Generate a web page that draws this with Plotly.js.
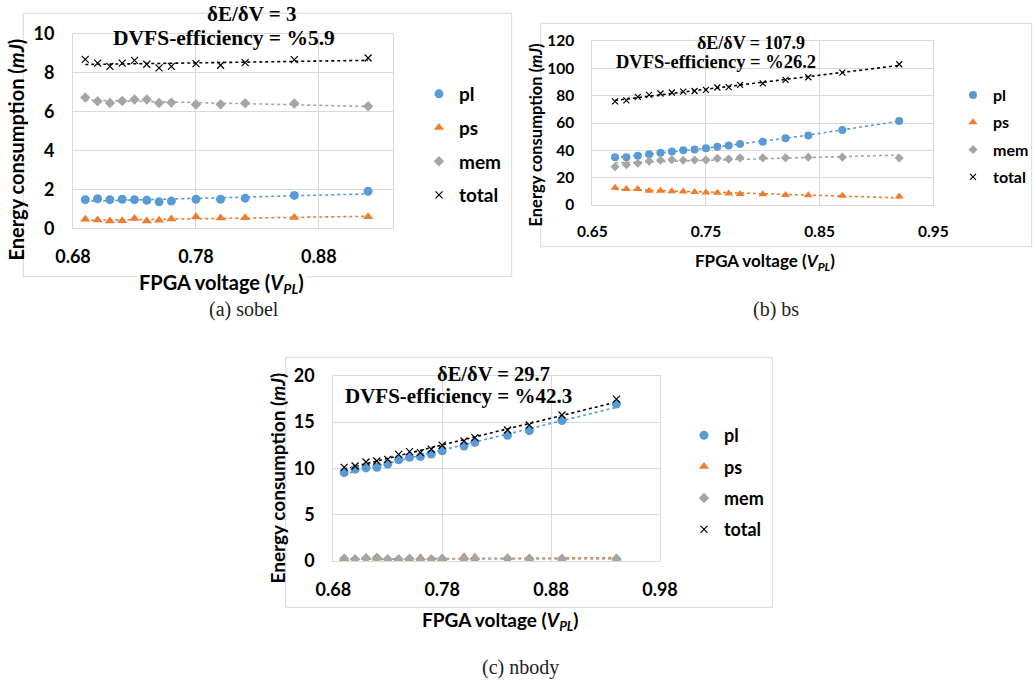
<!DOCTYPE html>
<html><head><meta charset="utf-8">
<script src="https://cdn.plot.ly/plotly-3.0.1.min.js"></script>
<style>html,body{margin:0;padding:0;background:#fff}#chart{width:1036px;height:687px}</style>
</head><body><div id="chart"></div>
<script>
// ---------- data ----------
const seriesNames = ['pl', 'ps', 'mem', 'total'];

// (a) sobel
const aVolt  = [0.69, 0.70, 0.71, 0.72, 0.73, 0.74, 0.75, 0.76, 0.78, 0.80, 0.82, 0.86, 0.92];
const aPl    = [1.47, 1.52, 1.47, 1.49, 1.47, 1.44, 1.36, 1.40, 1.49, 1.49, 1.55, 1.69, 1.90];
const aPs    = [0.46, 0.43, 0.37, 0.39, 0.51, 0.37, 0.41, 0.48, 0.59, 0.53, 0.54, 0.56, 0.59];
const aMem   = [6.72, 6.53, 6.44, 6.54, 6.62, 6.62, 6.44, 6.46, 6.36, 6.37, 6.43, 6.41, 6.27];
const aTotal = [8.68, 8.49, 8.32, 8.49, 8.63, 8.43, 8.24, 8.32, 8.46, 8.38, 8.51, 8.67, 8.75];

// (b) bs
const bVolt  = [0.67, 0.68, 0.69, 0.70, 0.71, 0.72, 0.73, 0.74, 0.75, 0.76, 0.77, 0.78, 0.80, 0.82, 0.84, 0.87, 0.92];
const bPl    = [34.9, 34.9, 36.1, 37.2, 38.2, 39.2, 40.1, 40.6, 41.5, 42.6, 43.6, 44.6, 46.2, 48.9, 50.8, 54.9, 61.5];
const bPs    = [12.6, 11.7, 11.7, 10.5, 10.5, 10.0, 9.8, 9.5, 9.2, 9.0, 8.4, 8.1, 7.9, 7.4, 7.2, 6.7, 6.3];
const bMem   = [28.0, 29.4, 30.5, 32.1, 32.7, 33.2, 32.7, 32.9, 33.0, 34.1, 33.6, 34.5, 34.5, 34.5, 35.0, 35.0, 34.4];
const bTotal = [75.8, 76.6, 79.1, 80.6, 81.6, 82.3, 82.9, 83.4, 84.2, 86.0, 86.3, 87.9, 89.0, 91.5, 93.5, 96.9, 103.0];

// (c) nbody
const cVolt  = [0.69, 0.70, 0.71, 0.72, 0.73, 0.74, 0.75, 0.76, 0.77, 0.78, 0.80, 0.81, 0.84, 0.86, 0.89, 0.94];
const cPl    = [9.55, 9.90, 10.05, 10.12, 10.47, 10.93, 11.2, 11.27, 11.55, 11.9, 12.4, 12.8, 13.57, 14.07, 15.17, 16.95];
const cPs    = [0.25, 0.05, 0.35, 0.30, 0.10, 0.20, 0.15, 0.35, 0.05, 0.25, 0.45, 0.40, 0.35, 0.30, 0.30, 0.30];
const cMem   = [0.25, 0.20, 0.30, 0.35, 0.20, 0.20, 0.25, 0.15, 0.20, 0.25, 0.20, 0.20, 0.25, 0.25, 0.25, 0.25];
const cTotal = [10.11, 10.25, 10.69, 10.79, 10.97, 11.51, 11.8, 11.69, 12.06, 12.49, 12.95, 13.31, 14.14, 14.68, 15.76, 17.48];

const aStats = ['δE/δV = 3', 'DVFS-efficiency = %5.9'];
const bStats = ['δE/δV = 107.9', 'DVFS-efficiency = %26.2'];
const cStats = ['δE/δV = 29.7', 'DVFS-efficiency = %42.3'];
const captions = ['(a) sobel', '(b) bs', '(c) nbody'];

// ---------- helpers ----------
const W = 1036, H = 687;
const PX = p => p / W;
const PY = p => 1 - p / H;
const colors = {pl: '#5B9BD5', ps: '#ED7D31', mem: '#A5A5A5', total: '#000000'};

function linfit(xs, ys) {
  const n = xs.length;
  const mx = xs.reduce((s, v) => s + v, 0) / n, my = ys.reduce((s, v) => s + v, 0) / n;
  let sxy = 0, sxx = 0;
  for (let i = 0; i < n; i++) { sxy += (xs[i] - mx) * (ys[i] - my); sxx += (xs[i] - mx) ** 2; }
  const b = sxy / sxx, a = my - b * mx;
  return {x: [xs[0], xs[n - 1]], y: [a + b * xs[0], a + b * xs[n - 1]]};
}
function quadfit(xs, ys) {
  const S = [0, 0, 0, 0, 0], T = [0, 0, 0];
  for (let i = 0; i < xs.length; i++) {
    let p = 1;
    for (let k = 0; k < 5; k++) { S[k] += p; if (k < 3) T[k] += p * ys[i]; p *= xs[i]; }
  }
  const M = [[S[0], S[1], S[2], T[0]], [S[1], S[2], S[3], T[1]], [S[2], S[3], S[4], T[2]]];
  for (let c = 0; c < 3; c++) {
    for (let r = c + 1; r < 3; r++) {
      const f = M[r][c] / M[c][c];
      for (let k = c; k < 4; k++) M[r][k] -= f * M[c][k];
    }
  }
  const co = [0, 0, 0];
  for (let r = 2; r >= 0; r--) {
    let s = M[r][3];
    for (let k = r + 1; k < 3; k++) s -= M[r][k] * co[k];
    co[r] = s / M[r][r];
  }
  return {x: xs.slice(), y: xs.map(x => co[0] + co[1] * x + co[2] * x * x)};
}

const traces = [];
function addPanel(idx, volt, data, msize, quadPl) {
  const xa = idx === 1 ? 'x' : 'x' + idx, ya = idx === 1 ? 'y' : 'y' + idx;
  const lg = idx === 1 ? 'legend' : 'legend' + idx;
  seriesNames.forEach((name, k) => {
    const ys = data[k];
    const fit = (quadPl && name === 'pl') ? quadfit(volt, ys) : linfit(volt, ys);
    traces.push({x: fit.x, y: fit.y, xaxis: xa, yaxis: ya, mode: 'lines', showlegend: false,
      hoverinfo: 'skip', line: {color: colors[name], dash: 'dot', width: 1.6}});
  });
  seriesNames.forEach((name, k) => {
    let marker;
    if (name === 'pl') marker = {symbol: 'circle', size: msize + 1, color: colors.pl};
    else if (name === 'ps') marker = {symbol: 'triangle-up', size: msize + 1, color: colors.ps};
    else if (name === 'mem') marker = {symbol: 'diamond', size: msize, color: colors.mem};
    else marker = {symbol: 'x-thin', size: msize - 1, color: '#000', line: {color: '#000', width: 1.2}};
    traces.push({x: volt, y: data[k], xaxis: xa, yaxis: ya, mode: 'markers', name: name,
      legend: lg, legendgroup: lg + name, marker: marker});
  });
}
addPanel(1, aVolt, [aPl, aPs, aMem, aTotal], 8, false);
addPanel(2, bVolt, [bPl, bPs, bMem, bTotal], 7, true);
addPanel(3, cVolt, [cPl, cPs, cMem, cTotal], 8, false);

const GRID = '#D9D9D9';
function axX(dom, range, tick0, anchor, fs) {
  return {domain: dom, range: range, tick0: tick0, dtick: 0.1, tickformat: '.2f', anchor: anchor,
    showgrid: true, gridcolor: GRID, gridwidth: 1, showline: true, linecolor: GRID, linewidth: 1, mirror: true,
    zeroline: false, ticks: '', ticklabelstandoff: 12,
    tickfont: {family: 'Lato', size: fs, color: '#000', weight: 700}};
}
function axY(dom, range, dtick, anchor, fs) {
  return {domain: dom, range: range, dtick: dtick, anchor: anchor,
    showgrid: true, gridcolor: GRID, gridwidth: 1, showline: true, linecolor: GRID, linewidth: 1, mirror: true,
    zeroline: false, ticks: '', ticklabelstandoff: 14,
    tickfont: {family: 'Lato', size: fs, color: '#000', weight: 700}};
}
function legendAt(xp, yp, fs, gap) {
  return {x: PX(xp), y: PY(yp), xanchor: 'left', yanchor: 'top', bgcolor: 'rgba(0,0,0,0)',
    traceorder: 'grouped', tracegroupgap: gap, borderwidth: 0,
    font: {family: 'Lato', size: fs, color: '#000', weight: 700}};
}

const ann = [];
function txt(text, xp, yp, font, extra) {
  ann.push(Object.assign({text: text, x: PX(xp), y: PY(yp), xref: 'paper', yref: 'paper',
    showarrow: false, xanchor: 'center', yanchor: 'middle', font: font}, extra || {}));
}
const serif = (s) => ({family: 'Liberation Serif', size: s, color: '#000', weight: 700});
const sans = (s) => ({family: 'Lato', size: s, color: '#000', weight: 700});
const ytitle = 'Energy consumption (<i>mJ</i>)';
const xtitle = 'FPGA voltage (<i>V<sub>PL</sub></i>)';

// (a)
txt(aStats[0], 251, 14, serif(21));
txt(aStats[1], 224, 38, serif(21.5));
txt(ytitle, 15.5, 150, sans(20), {textangle: -90});
txt(xtitle, 221, 284, sans(20), {bgcolor: '#fff'});
// (b)
txt(bStats[0], 751, 42.5, serif(18));
txt(bStats[1], 716, 62, serif(18.5));
txt(ytitle, 535.5, 135, sans(16.5), {textangle: -90});
txt(xtitle, 765, 262, sans(17));
// (c)
txt(cStats[0], 493, 374, serif(20.5));
txt(cStats[1], 458, 396, serif(21));
txt(ytitle, 276.5, 478, sans(19), {textangle: -90});
txt(xtitle, 500, 621, sans(19));
// captions
const capFont = {family: 'Liberation Serif', size: 20, color: '#222'};
txt(captions[0], 244, 309, capFont);
txt(captions[1], 776, 309, capFont);
txt(captions[2], 520, 667, capFont);

const box = (x0, y0, x1, y1) => ({type: 'rect', xref: 'paper', yref: 'paper', layer: 'below',
  x0: PX(x0), x1: PX(x1), y0: PY(y0), y1: PY(y1), line: {color: GRID, width: 1}, fillcolor: 'rgba(0,0,0,0)'});

const layout = {
  width: W, height: H, margin: {l: 0, r: 0, t: 0, b: 0},
  paper_bgcolor: '#fff', plot_bgcolor: '#fff',
  xaxis: axX([PX(73), PX(392.7)], [0.68, 0.94], 0.68, 'y', 18),
  yaxis: axY([PY(228.3), PY(33.7)], [0, 10], 2, 'x', 18),
  xaxis2: axX([PX(592.3), PX(933.3)], [0.65, 0.95], 0.65, 'y2', 15.5),
  yaxis2: axY([PY(205), PY(41)], [0, 120], 20, 'x2', 15.5),
  xaxis3: axX([PX(333.3), PX(660)], [0.68, 0.98], 0.68, 'y3', 18),
  yaxis3: axY([PY(561), PY(375.7)], [0, 20], 5, 'x3', 18),
  legend: legendAt(419, 75, 19, 6),
  legend2: legendAt(953, 78, 16, 3.5),
  legend3: legendAt(684, 417, 18, 5),
  annotations: ann,
  shapes: [box(23.3, 13.3, 511.7, 276.7), box(540.7, 23.3, 1031.7, 246.7), box(285.7, 357.3, 772.3, 607.3)],
  showlegend: true, hovermode: false
};
Plotly.newPlot('chart', traces, layout, {displayModeBar: false, staticPlot: true});
</script>
</body></html>
